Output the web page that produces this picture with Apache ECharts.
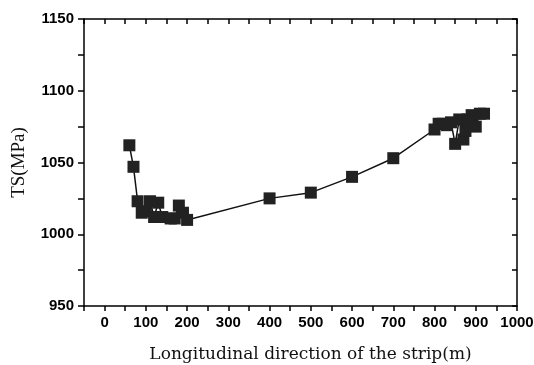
<!DOCTYPE html>
<html><head><meta charset="utf-8">
<script src="https://cdn.jsdelivr.net/npm/echarts@6/dist/echarts.min.js"></script>
<style>html,body{margin:0;padding:0;background:#fff}#c{width:534px;height:365px}</style>
</head><body><div id="c"></div>
<script>
const positions = [60,70,80,90,100,110,120,130,140,160,170,180,190,200,400,500,600,700,800,810,820,830,840,850,860,870,875,880,890,900,910,920];
const tsValues  = [1062,1047,1023,1015,1016,1023,1012,1022,1012,1011,1011,1020,1015,1010,1025,1029,1040,1053,1073,1077,1077,1076,1078,1063,1080,1066,1072,1080,1083,1075,1084,1084];
const xTickLabels = [0,100,200,300,400,500,600,700,800,900,1000];
const yTickLabels = [950,1000,1050,1100,1150];

const chart = echarts.init(document.getElementById('c'));
const lineStyle = {color:'#000', width:1.5};
const tickFont = {fontFamily:'Liberation Sans, Arial', fontWeight:'bold', fontSize:15, color:'#000'};
chart.setOption({
  animation:false,
  grid:{left:84, right:17, top:19, bottom:59, containLabel:false, outerBoundsMode:'none'},
  xAxis:[{
    type:'value', min:-50, max:1000, interval:50,
    axisLine:{show:true, onZero:false, lineStyle},
    axisTick:{show:true, inside:false, length:5, lineStyle},
    splitLine:{show:false},
    axisLabel:Object.assign({margin:9, showMinLabel:true, showMaxLabel:true,
      formatter:v => xTickLabels.includes(v) ? String(v) : ''}, tickFont),
    name:'Longitudinal direction of the strip(m)', nameLocation:'middle', nameGap:40,
    nameTextStyle:{fontFamily:'DejaVu Serif', fontSize:17, color:'#111', padding:[0,0,0,20]}
  },{
    type:'value', position:'top', min:-50, max:1000, interval:50,
    axisLine:{show:true, onZero:false, lineStyle},
    axisTick:{show:true, inside:true, length:5, lineStyle},
    axisLabel:{show:false}, splitLine:{show:false}
  }],
  yAxis:[{
    type:'value', min:950, max:1150, interval:25,
    axisLine:{show:true, onZero:false, lineStyle},
    axisTick:{show:true, inside:false, length:6, lineStyle},
    splitLine:{show:false},
    axisLabel:Object.assign({margin:10, formatter:v => yTickLabels.includes(v) ? String(v) : ''}, tickFont),
    name:'TS(MPa)', nameLocation:'middle', nameGap:55, nameRotate:90,
    nameTextStyle:{fontFamily:'Liberation Serif, Times New Roman', fontSize:19, color:'#111'}
  },{
    type:'value', position:'right', min:950, max:1150, interval:25,
    axisLine:{show:true, onZero:false, lineStyle},
    axisTick:{show:true, inside:true, length:5, lineStyle},
    axisLabel:{show:false}, splitLine:{show:false}
  }],
  series:[{
    type:'line', xAxisIndex:0, yAxisIndex:0,
    data: positions.map((x,i)=>[x, tsValues[i]]),
    symbol:'rect', symbolSize:12,
    itemStyle:{color:'#222'},
    lineStyle:{color:'#111', width:1.5}
  }]
});
</script></body></html>
